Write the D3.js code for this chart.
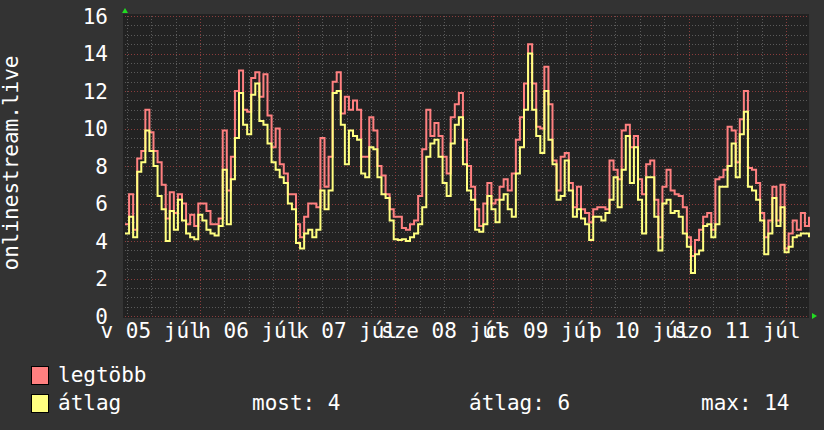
<!DOCTYPE html>
<html><head><meta charset="utf-8">
<script src="https://cdn.jsdelivr.net/npm/d3@7"></script>
<style>body{margin:0;background:#333333}svg{display:block}</style>
</head><body><svg id="c" width="824" height="430"></svg>
<script>
const startTime = "2015-07-05T05:35:00Z";
const stepHours = 1;
const maxValues = [
4.9,6.5,4.6,8.4,8.8,11.0,9.8,8.8,8.2,7.0,
5.2,6.6,5.5,6.5,6.0,4.9,5.4,4.8,6.0,6.0,
5.6,4.9,4.9,5.2,9.9,6.7,8.5,12.0,13.1,11.0,
10.9,12.7,13.0,11.7,12.9,10.7,9.0,10.0,8.1,7.6,
6.5,6.5,4.9,4.2,5.3,6.0,6.0,5.8,9.5,6.9,
8.5,12.5,13.0,10.8,11.7,11.0,11.5,11.0,8.5,8.5,
10.6,9.9,8.0,7.5,6.5,5.7,5.3,5.3,4.7,4.6,
4.9,5.1,6.4,8.9,11.0,9.6,10.3,9.6,8.5,7.6,
10.6,11.3,11.9,9.4,8.0,6.9,5.7,4.8,6.0,7.1,
6.0,6.2,6.9,7.3,6.7,7.6,9.4,10.6,12.4,14.5,
12.4,10.1,10.0,13.3,11.3,8.3,6.7,8.5,8.7,7.1,
5.8,6.9,5.7,5.5,5.0,5.7,5.8,5.8,5.7,8.3,
7.8,7.3,9.9,10.2,9.0,9.6,7.3,6.5,8.1,8.3,
6.2,4.2,6.9,7.8,6.7,6.5,6.4,5.8,4.2,3.2,
4.05,4.6,5.3,5.5,4.6,7.3,7.4,7.8,10.1,9.9,
8.2,10.5,12.0,7.9,7.8,7.1,5.5,4.2,5.1,6.9,
5.1,7.0,3.6,4.4,5.1,4.6,5.5,4.8,5.3
];
const avgValues = [
4.4,5.3,4.2,7.7,8.2,9.9,8.8,8.0,6.4,5.7,
4.0,5.6,4.6,6.2,5.1,4.4,4.2,4.1,5.4,5.1,
4.6,4.4,4.3,4.8,7.8,4.9,7.3,9.5,11.9,10.2,
9.7,11.8,12.4,10.4,10.2,9.2,8.2,7.8,7.4,7.1,
6.0,5.7,3.9,3.6,4.4,4.6,4.2,4.6,6.7,5.7,
6.7,11.9,12.0,10.2,8.1,9.9,9.6,9.4,7.6,7.4,
9.0,8.9,7.4,6.5,6.3,5.1,4.1,4.05,4.1,4.0,
4.2,4.4,4.9,5.8,8.5,9.2,9.4,8.5,7.1,6.4,
9.2,10.2,10.6,8.1,6.7,6.2,4.6,4.5,4.9,6.4,
5.7,5.0,6.2,6.5,5.7,5.3,7.6,9.0,11.0,14.0,
11.0,9.6,8.7,12.0,9.4,8.1,6.2,6.4,8.3,6.7,
5.3,5.7,5.2,4.9,4.05,5.3,5.3,5.1,5.5,6.2,
7.4,5.8,7.8,9.6,7.1,9.0,6.2,4.4,7.4,7.4,
5.3,3.5,6.0,6.2,5.5,5.6,5.3,4.4,3.7,2.3,
3.3,3.5,4.8,4.9,4.2,4.9,6.9,6.9,8.0,9.2,
7.4,9.7,10.9,6.9,6.7,6.2,5.1,3.3,4.4,6.3,
4.8,5.8,3.4,3.7,4.2,4.3,4.4,4.4,4.2
];
const yTicks = [0,2,4,6,8,10,12,14,16];
const dayDates = ["2015-07-05","2015-07-06","2015-07-07","2015-07-08","2015-07-09","2015-07-10","2015-07-11"];
const dayLabels = ["v 05 júl","h 06 júl","k 07 júl","sze 08 júl","cs 09 júl","p 10 júl","szo 11 júl"];
const seriesNames = ["legtöbb","átlag"];
const seriesColors = ["#ff8080","#ffff80"];
const statLabels = ["most: 4","átlag: 6","max: 14"];
const yTitle = "onlinestream.live";

const FONT = "DejaVu Sans Mono";
const svg = d3.select("#c");
const t0 = new Date(startTime);
const t1 = new Date(t0.getTime() + 7*24*3600*1000);
const L = 125, R = 809, T = 16, B = 316;
const x = d3.scaleUtc().domain([t0, t1]).range([L, R]);
const y = d3.scaleLinear().domain([0, 16]).range([B, T]);
const tAt = i => new Date(t0.getTime() + i*stepHours*3600*1000);

svg.append("rect").attr("width",824).attr("height",430).attr("fill","#333333");
svg.append("rect").attr("x",L-2).attr("y",T-2).attr("width",R-L+2).attr("height",B-T+4).attr("fill","#222222");

const grid = svg.append("g");
// minor horizontal
d3.range(0, 16.001, 0.5).filter(v => v % 2 !== 0).forEach(v => {
  grid.append("line").attr("x1",L).attr("x2",R).attr("y1",Math.round(y(v))+0.5).attr("y2",Math.round(y(v))+0.5)
    .attr("stroke","#5a5a5a").attr("stroke-dasharray","1,2");
});
// minor vertical (6h)
d3.utcHour.every(6).range(t0, t1).forEach(t => {
  if (t.getUTCHours() === 0) return;
  grid.append("line").attr("x1",Math.round(x(t))+0.5).attr("x2",Math.round(x(t))+0.5).attr("y1",T).attr("y2",B)
    .attr("stroke","#5a5a5a").attr("stroke-dasharray","1,2");
});
// major horizontal
yTicks.forEach(v => {
  grid.append("line").attr("x1",L).attr("x2",R).attr("y1",Math.round(y(v))+0.5).attr("y2",Math.round(y(v))+0.5)
    .attr("stroke","#8a3c3c").attr("stroke-dasharray","1,2");
});
// major vertical (days)
d3.utcDay.range(t0, t1).forEach(t => {
  grid.append("line").attr("x1",Math.round(x(t))+0.5).attr("x2",Math.round(x(t))+0.5).attr("y1",T).attr("y2",B)
    .attr("stroke","#8a3c3c").attr("stroke-dasharray","1,2");
});

const line = d3.line().x((d,i) => x(tAt(i))).y(d => y(d)).curve(d3.curveStepAfter);
[maxValues, avgValues].forEach((vals, k) => {
  svg.append("path").attr("d", line(vals)).attr("fill","none")
    .attr("stroke", seriesColors[k]).attr("stroke-width",2).attr("stroke-linejoin","miter");
});

// arrows
svg.append("path").attr("d", d3.line()([[L-3,13],[L+3,13],[L,8]]) + "Z").attr("fill","#22dd22");
svg.append("path").attr("d", d3.line()([[R+3,y(0)-3],[R+3,y(0)+3],[R+8,y(0)]]) + "Z").attr("fill","#22dd22");

// y tick labels
svg.append("g").selectAll("text").data(yTicks).join("text")
  .attr("x",108).attr("y",d => y(d) + 7.5).attr("text-anchor","end")
  .attr("font-family",FONT).attr("font-size",21).attr("fill","#ffffff").text(d => d);

// x labels centered at noon
svg.append("g").selectAll("text").data(dayDates).join("text")
  .attr("x",(d) => x(new Date(d + "T12:00:00Z"))).attr("y",338).attr("text-anchor","middle")
  .attr("font-family",FONT).attr("font-size",21).attr("fill","#ffffff").text((d,i) => dayLabels[i]);

// y title
svg.append("text").attr("transform","translate(18,163) rotate(-90)").attr("text-anchor","middle")
  .attr("font-family",FONT).attr("font-size",21).attr("fill","#ffffff").text(yTitle);

// legend
seriesNames.forEach((n, k) => {
  const yy = 366 + k*28;
  svg.append("rect").attr("x",31.5).attr("y",yy+0.5).attr("width",17).attr("height",18)
    .attr("fill",seriesColors[k]).attr("stroke","#000").attr("stroke-width",1);
  svg.append("text").attr("x",58).attr("y",yy+16).attr("font-family",FONT).attr("font-size",21)
    .attr("fill","#ffffff").text(n);
});
const statX = [252, 469, 701];
statLabels.forEach((s, k) => {
  svg.append("text").attr("x",statX[k]).attr("y",410).attr("font-family",FONT).attr("font-size",21)
    .attr("fill","#ffffff").text(s);
});
</script></body></html>
